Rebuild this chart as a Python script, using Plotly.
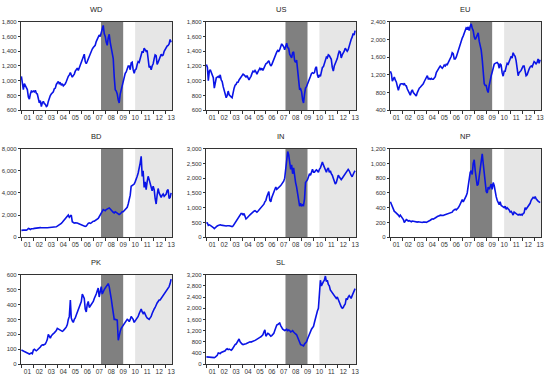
import pandas as pd
import plotly.graph_objects as go

# Monthly observations, Jan 2001 .. Jul 2013
dates = pd.date_range("2001-01-01", periods=151, freq="MS")
YEARS = list(range(2001, 2014))
YEAR_LABELS = ["%02d" % (y % 100) for y in YEARS]

WD = [1060, 950, 880, 960, 930, 900, 880, 780, 750, 820, 860, 850,
      860, 850, 870, 830, 820, 760, 700, 730, 650, 700, 720, 690,
      680, 650, 660, 720, 780, 800, 820, 840, 850, 890, 900, 950,
      980, 990, 960, 970, 940, 960, 930, 940, 960, 990, 1040, 1060,
      1080, 1110, 1080, 1050, 1070, 1090, 1130, 1150, 1170, 1140, 1180, 1220,
      1250, 1280, 1320, 1360, 1260, 1230, 1260, 1300, 1320, 1360, 1400, 1430,
      1450, 1470, 1480, 1530, 1560, 1580, 1620, 1600, 1650, 1720, 1750, 1640,
      1600, 1520, 1480, 1580, 1630, 1520, 1450, 1420, 1300, 1050, 880, 860,
      820, 740, 700, 820, 880, 950, 1000, 1050, 1100, 1120, 1170, 1200,
      1200, 1150, 1240, 1250, 1150, 1100, 1150, 1160, 1220, 1260, 1250, 1320,
      1350, 1400, 1380, 1440, 1420, 1400, 1410, 1250, 1180, 1200, 1150, 1200,
      1230, 1300, 1350, 1340, 1220, 1250, 1290, 1320, 1360, 1340, 1350, 1400,
      1430, 1450, 1470, 1480, 1500, 1560, 1520]

US = [1220, 1180, 1000, 1130, 1150, 1100, 1080, 1040, 900, 960, 1040, 1050,
      1060, 1040, 1080, 1010, 990, 920, 880, 820, 770, 800, 860, 810,
      790, 780, 770, 850, 900, 940, 950, 980, 980, 1010, 1030, 1060,
      1080, 1090, 1080, 1060, 1050, 1070, 1040, 1010, 1040, 1060, 1100, 1130,
      1120, 1140, 1120, 1090, 1120, 1150, 1170, 1150, 1170, 1140, 1180, 1210,
      1230, 1240, 1250, 1270, 1230, 1200, 1220, 1260, 1300, 1340, 1370, 1390,
      1410, 1400, 1420, 1470, 1500, 1480, 1460, 1420, 1490, 1510, 1450, 1440,
      1360, 1340, 1310, 1380, 1390, 1270, 1250, 1280, 1150, 960, 880, 890,
      850, 740, 700, 820, 900, 920, 960, 1010, 1050, 1060, 1100, 1110,
      1100, 1110, 1170, 1190, 1080, 1040, 1080, 1060, 1120, 1180, 1190, 1240,
      1280, 1320, 1310, 1350, 1340, 1300, 1290, 1180, 1130, 1200, 1230, 1250,
      1300, 1360, 1400, 1390, 1310, 1350, 1370, 1400, 1440, 1420, 1400, 1420,
      1480, 1510, 1560, 1590, 1640, 1620, 1680]

EU = [1280, 1220, 1060, 1120, 1150, 1080, 1040, 940, 850, 930, 990, 1000,
      1000, 980, 1010, 960, 950, 880, 820, 800, 740, 820, 860, 800,
      780, 740, 720, 800, 860, 900, 920, 940, 960, 1000, 1050, 1100,
      1150, 1180, 1110, 1120, 1100, 1120, 1100, 1100, 1130, 1160, 1250, 1300,
      1320, 1370, 1400, 1380, 1350, 1380, 1420, 1400, 1440, 1430, 1480, 1500,
      1560, 1620, 1700, 1680, 1560, 1560, 1600, 1680, 1760, 1840, 1920, 1980,
      2030, 2080, 2120, 2200, 2260, 2240, 2280, 2200, 2300, 2350, 2250, 2200,
      2060, 2000, 2040, 2080, 2150, 1960, 1880, 1760, 1550, 1150, 1000, 960,
      960, 850, 800, 960, 1100, 1180, 1260, 1380, 1440, 1460, 1470, 1480,
      1450, 1350, 1450, 1420, 1250, 1170, 1280, 1280, 1380, 1460, 1440, 1500,
      1560, 1620, 1580, 1700, 1650, 1620, 1520, 1300, 1180, 1250, 1270, 1300,
      1350, 1400, 1400, 1320, 1180, 1200, 1280, 1330, 1380, 1400, 1380, 1450,
      1500, 1480, 1450, 1480, 1560, 1460, 1540]

BD = [620, 600, 640, 650, 620, 640, 680, 800, 760, 700, 760, 800,
      780, 800, 820, 840, 850, 860, 880, 870, 860, 870, 860, 850,
      840, 850, 850, 860, 850, 850, 860, 880, 900, 880, 900, 950,
      1000, 1050, 1100, 1150, 1250, 1350, 1450, 1550, 1700, 1850, 1950, 2000,
      1800, 1950, 2000, 1400, 1300, 1280, 1300, 1320, 1280, 1250, 1200, 1150,
      1150, 1100, 1050, 1000, 980, 1000, 1150, 1250, 1300, 1250, 1300, 1400,
      1450, 1450, 1500, 1550, 1600, 1700, 1850, 2000, 2200, 2400, 2500, 2450,
      2400, 2500, 2550, 2600, 2650, 2550, 2450, 2300, 2250, 2200, 2300, 2250,
      2200, 2100, 2050, 2100, 2200, 2300, 2300, 2400, 2500, 2600, 2700, 3000,
      3300, 3800, 4600, 4650, 4700, 4800, 5000, 5200, 5500, 5800, 6200, 6700,
      7300, 5500, 6000, 4500, 5000, 4300, 5000, 5500, 5200, 4800, 4600, 4200,
      4600, 4300, 3500, 3000, 3800, 4400, 4000, 3700, 3600, 3800, 3900, 3700,
      3800, 3900, 4200, 4300, 3500, 3600, 4000]

IN = [500, 480, 400, 420, 400, 380, 360, 330, 290, 330, 370, 380,
      400, 420, 420, 410, 400, 390, 380, 370, 380, 390, 400, 390,
      380, 370, 360, 380, 430, 480, 550, 600, 650, 720, 780, 800,
      800, 760, 800, 680, 620, 650, 700, 720, 760, 790, 830, 860,
      880, 900, 880, 850, 880, 920, 980, 1000, 1050, 1100, 1120, 1200,
      1250, 1380, 1450, 1550, 1250, 1200, 1350, 1450, 1550, 1650, 1700, 1620,
      1650, 1680, 1700, 1750, 1800, 1850, 1900, 2000, 2300, 2650, 2900, 2800,
      2600, 2300, 2450, 2150, 2350, 2000, 1850, 1700, 1500, 1200, 1050, 1150,
      1050, 1100, 1080, 1300, 1850, 1900, 1950, 2050, 2150, 2100, 2250, 2300,
      2200, 2200, 2250, 2280, 2250, 2200, 2300, 2350, 2450, 2550, 2450, 2380,
      2300, 2200, 2300, 2350, 2200, 2250, 2150, 2100, 2000, 1900, 1800, 1850,
      1950, 2100, 2050, 2000, 1950, 2000, 2050, 2100, 2150, 2200, 2250, 2300,
      2250, 2150, 2100, 2050, 2150, 2200, 2250]

NP = [480, 440, 400, 370, 350, 340, 330, 320, 300, 280, 300, 280,
      260, 240, 200, 230, 240, 230, 220, 225, 215, 210, 220, 215,
      210, 215, 210, 205, 210, 205, 210, 205, 200, 205, 210, 205,
      200, 205, 210, 220, 230, 240, 250, 245, 250, 260, 270, 280,
      280, 290, 300, 295, 290, 295, 300, 305, 310, 305, 310, 320,
      320, 330, 340, 360, 370, 380, 370, 380, 400, 420, 460, 500,
      510, 480, 500, 520, 560, 600, 680, 800, 880, 900, 850, 1000,
      1050, 900, 750, 700, 720, 820, 950, 1050, 1130, 1000, 850, 700,
      620, 600, 680, 650, 700, 720, 650, 740, 700, 600, 550, 500,
      470, 440, 480, 430, 420, 410, 400, 420, 380, 400, 390, 370,
      340, 350, 330, 300, 340, 330, 320, 310, 300, 310, 300, 310,
      300, 320, 330, 400, 380, 400, 420, 440, 460, 500, 520, 540,
      530, 550, 520, 500, 490, 480, 470]

PK = [95, 90, 88, 85, 82, 80, 78, 72, 68, 70, 75, 70,
      95, 100, 92, 90, 95, 100, 108, 115, 125, 130, 128, 130,
      135, 150, 165, 200, 185, 175, 190, 200, 205, 210, 215, 225,
      240, 235, 230, 228, 225, 220, 225, 230, 240, 250, 265, 300,
      320, 430, 310, 290, 280, 300, 310, 330, 350, 370, 380, 400,
      420, 470, 460, 440, 370, 350, 400, 420, 380, 390, 400, 410,
      420, 440, 450, 470, 490, 510, 450, 500, 520, 470, 490, 500,
      510, 520, 530, 540, 520, 490, 440, 390, 330, 300, 300, 300,
      295, 160, 200, 220, 240, 250, 260, 270, 280, 290, 300, 295,
      285, 300, 320, 310, 300, 280, 290, 300, 310, 320, 340, 360,
      370, 350, 340, 350, 330, 320, 310, 305, 300, 310, 320, 340,
      360, 370, 380, 400, 410, 420, 430, 430, 440, 450, 460, 470,
      480, 490, 500, 510, 520, 540, 570]

SL = [260, 255, 250, 250, 245, 250, 240, 240, 235, 250, 280, 320,
      400, 380, 380, 420, 430, 450, 460, 480, 530, 550, 520, 540,
      520, 500, 530, 600, 650, 700, 720, 780, 850, 900, 800, 750,
      720, 700, 700, 720, 730, 750, 760, 780, 800, 790, 800, 810,
      820, 850, 870, 900, 920, 950, 960, 980, 1000, 1050, 1150, 1230,
      1000, 1050, 1100, 1080, 1050, 1000, 1020, 1050, 1100, 1200, 1300, 1400,
      1420, 1450, 1470, 1380, 1300, 1250, 1230, 1200, 1220, 1250, 1200, 1220,
      1200, 1150, 1170, 1200, 1150, 1100, 1080, 1050, 950, 850, 750, 700,
      690, 680, 650, 720, 750, 800, 900, 1000, 1100, 1200, 1250, 1300,
      1350, 1500, 1650, 1750, 1900, 2000, 2400, 3000, 2800, 2900, 2950, 3000,
      3150, 2950, 3000, 2850, 2800, 2650, 2600, 2550, 2500, 2450, 2400, 2350,
      2400, 2300, 2250, 2150, 2050, 2000, 2020, 2100, 2150, 2350, 2300, 2400,
      2450, 2400, 2350, 2450, 2550, 2600, 2700]

NAMES = ["WD", "US", "EU", "BD", "IN", "NP", "PK", "SL"]
VALUES = [WD, US, EU, BD, IN, NP, PK, SL]
Y_RANGES = [[600, 1800], [600, 1800], [400, 2400], [0, 8000],
            [0, 3000], [0, 1200], [0, 600], [0, 3200]]
Y_STEPS = [200, 200, 400, 2000, 500, 200, 100, 400]

CRISIS = ("2007-08-25", "2009-07-01")
POST = ("2010-07-01", "2013-08-01")
X_RANGE = ["2000-12-16", "2013-07-30"]

# year-label positions (mid-year) and year-boundary tick positions
label_pos = ["%d-07-02" % y for y in YEARS]
tick_pos = ["%d-01-01" % y for y in YEARS]

W, H = 550, 379
XDOM = [[21 / W, 173 / W], [207 / W, 358 / W], [392 / W, 544 / W]]
YDOM = [[1 - 109 / H, 1 - 19 / H], [1 - 238 / H, 1 - 148 / H], [1 - 367 / H, 1 - 276 / H]]

FONT = "Liberation Sans, Arial, sans-serif"

fig = go.Figure()
shapes = []
annotations = []
for k, (name, vals) in enumerate(zip(NAMES, VALUES)):
    r, c = divmod(k, 3)
    sfx = "" if k == 0 else str(k + 1)
    fig.add_trace(go.Scatter(
        x=dates[:len(vals)], y=vals, mode="lines",
        line=dict(color="#0a14e6", width=1.6),
        xaxis="x" + sfx, yaxis="y" + sfx, showlegend=False, hoverinfo="skip"))
    fig.layout["xaxis" + sfx] = dict(
        domain=XDOM[c], anchor="y" + sfx, type="date", range=X_RANGE,
        tickmode="array", tickvals=label_pos, ticktext=YEAR_LABELS,
        ticks="", ticklabelstandoff=1,
        minor=dict(tickmode="array", tickvals=tick_pos, ticks="outside",
                   ticklen=3, tickwidth=1, tickcolor="#333", showgrid=False),
        showline=True, mirror=True, linecolor="#333", linewidth=1,
        showgrid=False, zeroline=False,
        tickfont=dict(size=6.5, family=FONT, color="#333"))
    fig.layout["yaxis" + sfx] = dict(
        domain=YDOM[r], anchor="x" + sfx, range=Y_RANGES[k],
        tick0=0, dtick=Y_STEPS[k], tickformat=",d",
        ticks="outside", ticklen=2, tickwidth=1, tickcolor="#333",
        showline=True, mirror=True, linecolor="#333", linewidth=1,
        showgrid=False, zeroline=False,
        tickfont=dict(size=6, family=FONT, color="#333"))
    shapes.append(dict(type="rect", xref="x" + sfx, yref="y" + sfx + " domain",
                       x0=CRISIS[0], x1=CRISIS[1], y0=0, y1=1,
                       fillcolor="#808080", line=dict(width=0), layer="below"))
    shapes.append(dict(type="rect", xref="x" + sfx, yref="y" + sfx + " domain",
                       x0=POST[0], x1=POST[1], y0=0, y1=1,
                       fillcolor="#e6e6e6", line=dict(width=0), layer="below"))
    annotations.append(dict(text=name, xref="x" + sfx + " domain", yref="y" + sfx + " domain",
                            x=0.5, y=1, yanchor="bottom", xanchor="center", yshift=6,
                            showarrow=False, font=dict(size=7.5, family=FONT, color="#222")))

fig.update_layout(width=W, height=H, margin=dict(l=0, r=0, t=0, b=0),
                  paper_bgcolor="white", plot_bgcolor="white",
                  shapes=shapes, annotations=annotations, hovermode=False)
fig.write_html("out.html", config={"displayModeBar": False, "staticPlot": True},
               post_script="document.body.style.margin='0';document.body.style.padding='0';")
